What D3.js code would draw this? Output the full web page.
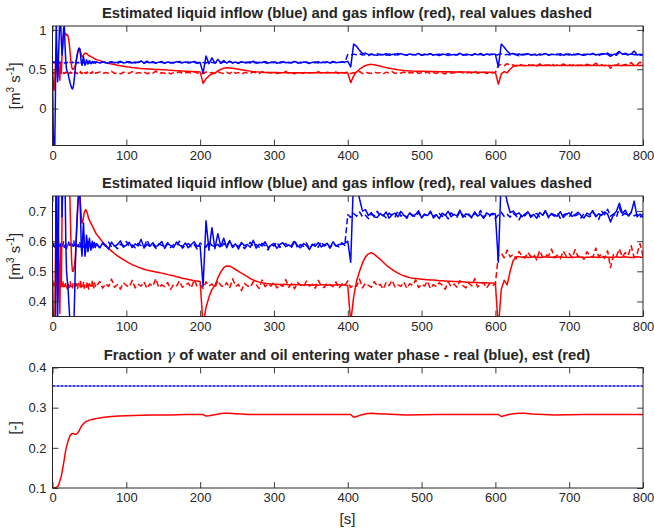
<!DOCTYPE html>
<html>
<head>
<meta charset="utf-8">
<script src="https://cdn.jsdelivr.net/npm/d3@7"></script>
<style>
  body { margin: 0; background: #fff; }
  svg { display: block; }
  text { font-family: "Liberation Sans", Arial, Helvetica, sans-serif; fill: #262626; }
</style>
</head>
<body>
<svg id="fig" width="654" height="529"></svg>
<script>
// Sampling grid: 1 s steps during start-up, 4 s steps afterwards
const timeSec = d3.range(0, 60, 1).concat(d3.range(60, 801, 4));

// Real liquid inflow [m^3/s]
const liquidReal = [
  0.590,0.583,0.596,0.580,0.588,0.578,0.592,0.585,0.600,0.582,
  0.576,0.589,0.594,0.581,0.587,0.598,0.579,0.586,0.591,0.575,
  0.588,0.584,0.597,0.580,0.586,0.593,0.578,0.590,0.583,0.601,
  0.579,0.587,0.592,0.576,0.585,0.589,0.581,0.596,0.584,0.578,
  0.591,0.586,0.580,0.594,0.583,0.588,0.577,0.592,0.585,0.599,
  0.581,0.587,0.590,0.574,0.586,0.593,0.582,0.588,0.579,0.595,
  0.588,0.579,0.592,0.583,0.597,0.581,0.586,0.575,0.590,0.584,
  0.599,0.582,0.587,0.578,0.593,0.585,0.580,0.604,0.583,0.589,
  0.576,0.591,0.586,0.581,0.595,0.579,0.588,0.584,0.600,0.577,
  0.587,0.592,0.582,0.589,0.574,0.594,0.585,0.580,0.598,0.586,
  0.581,0.590,0.577,0.593,0.584,0.602,0.579,0.588,0.583,0.591,
  0.575,0.587,0.596,0.582,0.589,0.580,0.593,0.585,0.571,0.590,
  0.584,0.597,0.579,0.588,0.592,0.581,0.586,0.603,0.578,0.589,
  0.583,0.594,0.576,0.587,0.591,0.580,0.598,0.584,0.589,0.577,
  0.592,0.585,0.581,0.595,0.586,
  0.688,0.679,0.692,0.683,0.697,0.681,0.686,0.675,0.690,0.684,
  0.699,0.682,0.687,0.678,0.693,0.685,0.680,0.701,0.683,0.689,
  0.676,0.691,0.686,0.681,0.695,0.679,0.688,0.684,0.700,0.677,
  0.687,0.692,0.682,0.689,0.674,0.694,0.685,0.680,0.698,0.686,
  0.681,0.690,0.677,0.693,0.684,0.702,0.679,0.688,0.683,0.691,
  0.675,0.687,0.696,0.682,0.689,0.680,0.693,0.685,0.671,0.690,
  0.684,0.697,0.679,0.688,0.692,0.681,0.686,0.703,0.678,0.689,
  0.683,0.694,0.676,0.687,0.691,0.680,0.698,0.684,0.689,0.677,
  0.692,0.685,0.681,0.695,0.686,0.672,0.699,0.688,0.706,0.683,
  0.690,0.679,0.712,0.686,0.693,0.681,0.697,0.684,0.689,0.678,0.691
];

// Estimated liquid inflow [m^3/s]
const liquidEst = [
  0.50,-0.30,-0.60,-0.55,0.20,1.10,0.70,0.34,0.60,0.90,
  1.15,1.10,0.85,0.68,0.80,1.02,1.05,0.80,0.60,0.50,
  0.47,0.45,0.40,0.36,0.32,0.29,0.26,0.25,0.27,0.33,
  0.42,0.52,0.60,0.66,0.71,0.75,0.77,0.76,0.68,0.58,
  0.55,0.62,0.66,0.60,0.55,0.57,0.62,0.60,0.565,0.58,
  0.61,0.59,0.57,0.585,0.60,0.578,0.59,0.595,0.58,0.588,
  0.592,0.578,0.595,0.586,0.574,0.597,0.583,0.589,0.601,0.580,
  0.587,0.596,0.579,0.591,0.584,0.606,0.577,0.590,0.583,0.595,
  0.581,0.588,0.599,0.576,0.592,0.585,0.579,0.597,0.587,0.582,
  0.594,0.578,0.589,0.598,0.583,
  0.585,0.450,0.668,0.570,0.645,0.575,0.625,0.582,0.610,0.578,
  0.600,0.583,0.591,0.574,0.596,0.585,0.589,0.580,0.603,0.577,
  0.590,0.584,0.598,0.579,0.587,0.593,0.576,0.589,0.595,0.582,
  0.588,0.580,0.599,0.585,0.578,0.592,0.586,0.572,0.590,0.583,
  0.595,0.581,0.588,0.593,0.579,0.598,0.584,0.589,0.590,0.593,
  0.600,0.530,0.820,0.790,0.740,0.700,0.705,0.685,0.695,0.680,
  0.679,0.692,0.684,0.697,0.676,0.688,0.693,0.681,0.699,0.686,
  0.680,0.694,0.683,0.689,0.701,0.677,0.690,0.685,0.696,0.682,
  0.688,0.675,0.693,0.686,0.699,0.681,0.689,0.684,0.703,0.679,
  0.691,0.686,0.680,0.697,0.683,0.690,0.676,0.694,0.687,0.692,
  0.690,0.530,0.820,0.780,0.730,0.695,0.700,0.688,
  0.694,0.681,0.690,0.697,0.684,0.689,0.676,0.695,0.686,0.700,
  0.680,0.692,0.687,0.683,0.698,0.679,0.690,0.694,0.682,0.688,
  0.696,0.685,0.677,0.693,0.688,0.702,0.681,0.691,0.686,0.697,
  0.690,0.664,0.688,0.699,0.726,0.692,0.703,0.684,0.695,0.733,0.681,0.690,0.679
];

// Real gas inflow [m^3/s]
const gasReal = [
  0.470,0.455,0.448,0.462,0.445,0.458,0.450,0.466,0.447,0.453,
  0.460,0.444,0.457,0.451,0.468,0.446,0.455,0.449,0.463,0.452,
  0.442,0.459,0.454,0.447,0.465,0.450,0.456,0.445,0.461,0.453,
  0.448,0.467,0.451,0.457,0.443,0.460,0.452,0.449,0.472,0.446,
  0.455,0.450,0.463,0.444,0.458,0.452,0.447,0.466,0.454,0.441,
  0.459,0.451,0.456,0.448,0.470,0.453,0.445,0.461,0.450,0.457,
  0.452,0.466,0.444,0.459,0.450,0.474,0.447,0.456,0.441,0.462,
  0.453,0.448,0.470,0.445,0.457,0.451,0.465,0.443,0.458,0.450,
  0.476,0.446,0.455,0.449,0.463,0.440,0.457,0.452,0.468,0.447,
  0.454,0.461,0.445,0.472,0.450,0.456,0.443,0.465,0.451,0.458,
  0.446,0.469,0.453,0.448,0.462,0.444,0.475,0.450,0.457,0.436,
  0.460,0.452,0.447,0.466,0.455,0.443,0.471,0.449,0.458,0.451,
  0.464,0.445,0.456,0.450,0.473,0.447,0.459,0.442,0.463,0.454,
  0.448,0.467,0.451,0.457,0.444,0.470,0.452,0.446,0.461,0.455,
  0.449,0.465,0.443,0.458,0.452,0.468,0.446,0.456,0.450,0.474,
  0.445,0.460,0.453,0.447,0.466,0.451,0.457,0.441,0.463,0.452,
  0.470,0.448,0.455,0.450,0.464,0.444,0.459,0.453,0.472,0.446,
  0.457,0.451,0.467,0.443,0.456,0.449,0.462,0.454,0.440,0.465,
  0.450,0.458,0.447,0.469,0.453,0.445,0.461,0.452,0.476,0.448,
  0.456,0.463,0.444,0.459,0.452,
  0.458,
  0.552,0.560,0.545,0.571,0.548,0.556,0.541,0.566,0.550,0.544,
  0.563,0.549,0.557,0.538,0.569,0.547,0.555,0.551,0.574,0.546,
  0.553,0.542,0.567,0.550,0.559,0.545,0.572,0.548,0.554,0.540,
  0.565,0.551,0.546,0.577,0.549,0.557,0.543,0.568,0.512,0.556,
  0.550,0.575,0.547,0.562,0.553,0.585,0.545,0.558,0.592,0.551
];

// Estimated gas inflow [m^3/s]
const gasEst = [
  0.47,0.35,0.23,0.30,0.55,0.78,0.50,0.40,0.62,0.48,
  0.36,0.58,0.45,0.70,0.88,0.95,0.94,0.96,0.95,0.93,
  0.94,0.92,0.88,0.80,0.70,0.60,0.53,0.50,0.50,0.51,
  0.52,0.55,0.60,0.65,0.70,0.74,0.76,0.755,0.72,0.68,
  0.66,0.665,0.68,0.695,0.70,0.705,0.70,0.695,0.685,0.675,
  0.67,0.665,0.66,0.655,0.65,0.645,0.64,0.635,0.63,0.625,
  0.622,0.610,0.597,0.586,0.576,0.567,0.559,0.551,0.545,0.539,
  0.533,0.527,0.522,0.518,0.514,0.510,0.507,0.504,0.502,0.500,
  0.498,0.496,0.494,0.492,0.489,0.487,0.485,0.482,0.480,0.477,
  0.475,0.473,0.471,0.469,0.468,
  0.466,0.320,0.380,0.415,0.440,0.452,0.478,0.498,0.512,0.518,
  0.517,0.512,0.506,0.500,0.494,0.488,0.482,0.476,0.471,0.467,
  0.464,0.462,0.460,0.459,0.458,
  0.457,0.457,0.456,0.456,0.456,0.455,0.455,0.456,0.455,0.455,
  0.454,0.455,0.455,0.454,0.455,0.454,0.455,0.455,0.454,0.455,
  0.454,0.455,0.455,0.454,0.455,
  0.452,0.330,0.415,0.468,0.500,0.528,0.548,0.558,0.562,0.556,
  0.548,0.540,0.530,0.521,0.513,0.506,0.500,0.494,0.489,0.485,
  0.482,0.479,0.477,0.476,0.475,0.474,0.473,0.472,0.471,0.471,
  0.470,0.469,0.469,0.468,0.467,0.467,0.466,0.466,0.465,0.465,
  0.464,0.464,0.463,0.463,0.463,0.462,0.462,0.462,0.461,0.461,
  0.460,0.310,0.440,0.470,0.455,0.500,0.535,0.548,
  0.548,0.547,0.548,0.546,0.547,0.548,0.547,0.546,0.547,0.548,
  0.547,0.547,0.546,0.547,0.548,0.547,0.547,0.546,0.547,0.547,
  0.548,0.547,0.546,0.547,0.547,0.548,0.547,0.546,0.547,0.548,
  0.547,0.547,0.546,0.548,0.547,0.547,0.548,0.547,0.546,0.547,
  0.548,0.547,0.547
];

// Fraction gamma of water and oil entering the water phase
const gammaTime = [
  0,3,6,8,10,12,14,16,18,20,
  22,24,26,28,30,32,34,36,38,40,
  43,46,50,55,60,70,80,90,100,120,
  140,160,180,200,204,208,212,218,225,232,
  240,248,256,265,280,300,340,380,400,404,
  408,412,418,425,432,440,450,465,480,520,
  560,600,604,608,612,618,625,632,640,650,
  665,680,720,760,800
];
const gammaEst = [
  0.100,0.100,0.103,0.106,0.118,0.130,0.150,0.172,0.195,0.210,
  0.222,0.231,0.235,0.236,0.234,0.234,0.237,0.242,0.250,0.256,
  0.262,0.266,0.269,0.271,0.273,0.276,0.278,0.279,0.280,0.281,
  0.282,0.282,0.283,0.283,0.283,0.279,0.280,0.282,0.284,0.286,
  0.286,0.285,0.284,0.283,0.283,0.283,0.283,0.283,0.283,0.283,
  0.276,0.278,0.282,0.285,0.286,0.285,0.284,0.283,0.282,0.283,
  0.283,0.283,0.283,0.278,0.280,0.283,0.285,0.286,0.286,0.284,
  0.283,0.282,0.283,0.283,0.283
];
const gammaRealTime = [0, 800];
const gammaReal = [0.354, 0.354];

// Axis ticks
const xTicks = [0, 100, 200, 300, 400, 500, 600, 700, 800];
const flowTicksWide = [0, 0.5, 1];
const flowTicksZoom = [0.4, 0.5, 0.6, 0.7];
const gammaTicks = [0.1, 0.2, 0.3, 0.4];

const titleFlow = "Estimated liquid inflow (blue) and gas inflow (red), real values dashed";

// ---------- drawing ----------
const svg = d3.select("#fig");
const AX = "#262626";
const BLUE = "#0000ff", RED = "#ff0000";
const x = d3.scaleLinear().domain([0, 800]).range([52.5, 643]);
const TICK = 5.9;

function series(t, v) { return t.map((ti, i) => [ti, v[i]]).filter(d => d[1] !== undefined); }

function panel(cfg, idx) {
  const y = d3.scaleLinear().domain(cfg.domain).range([cfg.bottom, cfg.top]);
  const g = svg.append("g");
  const clipId = "clip" + idx;
  svg.append("defs").append("clipPath").attr("id", clipId)
    .append("rect").attr("x", x.range()[0]).attr("y", cfg.top)
    .attr("width", x.range()[1] - x.range()[0]).attr("height", cfg.bottom - cfg.top);

  const line = d3.line().x(d => x(d[0])).y(d => y(d[1]));
  const plot = g.append("g").attr("clip-path", `url(#${clipId})`);
  cfg.lines.forEach(L => {
    plot.append("path").datum(series(L.t, L.v))
      .attr("d", line).attr("fill", "none")
      .attr("stroke", L.color).attr("stroke-width", L.width || 1.5)
      .attr("stroke-linejoin", "round")
      .attr("stroke-dasharray", L.dash || null);
  });

  const fmt = d => String(d);
  const axes = [
    [d3.axisBottom(x).tickValues(xTicks).tickFormat(fmt).tickPadding(5), `translate(0,${cfg.bottom})`],
    [d3.axisTop(x).tickValues(xTicks).tickFormat(""), `translate(0,${cfg.top})`],
    [d3.axisLeft(y).tickValues(cfg.ticks).tickFormat(fmt).tickPadding(6), `translate(${x.range()[0]},0)`],
    [d3.axisRight(y).tickValues(cfg.ticks).tickFormat(""), `translate(${x.range()[1]},0)`]
  ];
  axes.forEach(([ax, tr]) => {
    const a = g.append("g").attr("transform", tr)
      .call(ax.tickSizeInner(-TICK).tickSizeOuter(0));
    a.select(".domain").remove();
    a.selectAll("line").attr("stroke", AX).attr("stroke-width", 0.9);
    a.selectAll("text").attr("fill", AX).style("font-size", "13px")
      .style("font-family", '"Liberation Sans", Arial, sans-serif');
  });

  g.append("rect").attr("x", x.range()[0]).attr("y", cfg.top)
    .attr("width", x.range()[1] - x.range()[0]).attr("height", cfg.bottom - cfg.top)
    .attr("fill", "none").attr("stroke", AX).attr("stroke-width", 1);

  // title
  const tt = svg.append("text").attr("x", 347).attr("y", cfg.top - 8)
    .attr("text-anchor", "middle").style("font-weight", "bold").style("font-size", "14.8px");
  cfg.title(tt);

  // y label
  const yl = svg.append("text")
    .attr("transform", `translate(20,${(cfg.top + cfg.bottom) / 2}) rotate(-90)`)
    .attr("text-anchor", "middle").style("font-size", "15px");
  cfg.ylabel(yl);
}

function flowLabel(t) {
  t.append("tspan").text("[m");
  t.append("tspan").attr("dy", -6).style("font-size", "10px").text("3");
  t.append("tspan").attr("dy", 6).text(" s");
  t.append("tspan").attr("dy", -6).style("font-size", "10px").text("-1");
  t.append("tspan").attr("dy", 6).text("]");
}

const flowLines = [
  { t: timeSec, v: gasReal, color: RED, dash: "6,3" },
  { t: timeSec, v: liquidReal, color: BLUE, dash: "6,3" },
  { t: timeSec, v: gasEst, color: RED },
  { t: timeSec, v: liquidEst, color: BLUE }
];

const panels = [
  { top: 26, bottom: 145.5, domain: [-0.47, 1.05], ticks: flowTicksWide,
    lines: flowLines, title: t => t.text(titleFlow), ylabel: flowLabel },
  { top: 196, bottom: 316.5, domain: [0.35, 0.75], ticks: flowTicksZoom,
    lines: flowLines, title: t => t.text(titleFlow), ylabel: flowLabel },
  { top: 367.5, bottom: 488, domain: [0.1, 0.4], ticks: gammaTicks,
    lines: [
      { t: gammaRealTime, v: gammaReal, color: BLUE, dash: "3,1", width: 1.5 },
      { t: gammaTime, v: gammaEst, color: RED }
    ],
    title: t => {
      t.append("tspan").text("Fraction ");
      t.append("tspan").style("font-style", "italic").style("font-weight", "normal")
        .style("font-family", '"DejaVu Serif", serif').text("\u03b3");
      t.append("tspan").text(" of water and oil entering water phase - real (blue), est (red)");
    },
    ylabel: t => t.text("[-]") }
];

panels.forEach(panel);

// x axis label
svg.append("text").attr("x", 347.5).attr("y", 524).attr("text-anchor", "middle")
  .style("font-size", "15px").text("[s]");
</script>
</body>
</html>
